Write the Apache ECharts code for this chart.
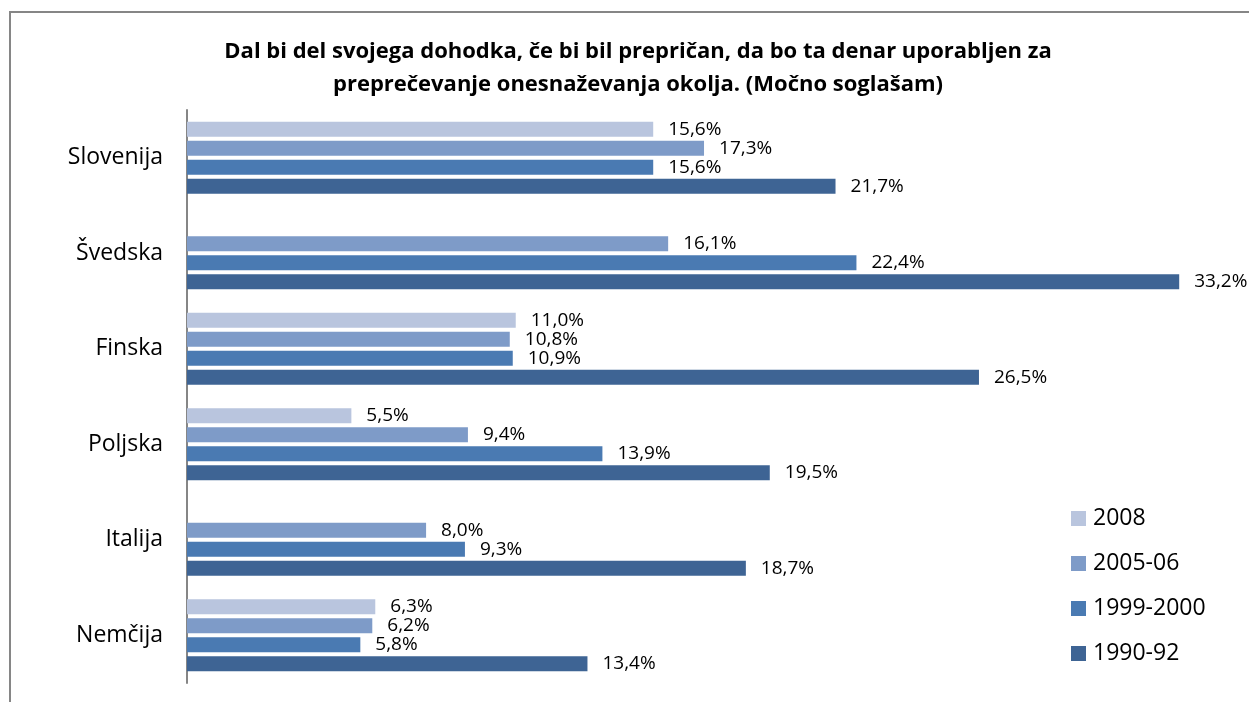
<!DOCTYPE html>
<html>
<head>
<meta charset="utf-8">
<script src="https://cdn.jsdelivr.net/npm/echarts@6/dist/echarts.min.js"></script>
<style>
  html, body { margin: 0; padding: 0; background: #fff; }
  #chart { width: 1249px; height: 702px; }
</style>
</head>
<body>
<div id="chart"></div>
<script>
// Countries, top to bottom
const categories = ['Slovenija', 'Švedska', 'Finska', 'Poljska', 'Italija', 'Nemčija'];
// Survey waves
const seriesNames = ['2008', '2005-06', '1999-2000', '1990-92'];
// Share answering "strongly agree", in percent (null = no data for that wave)
const values2008 = [15.6, null, 11.0, 5.5, null, 6.3];
const values2005 = [17.3, 16.1, 10.8, 9.4, 8.0, 6.2];
const values1999 = [15.6, 22.4, 10.9, 13.9, 9.3, 5.8];
const values1990 = [21.7, 33.2, 26.5, 19.5, 18.7, 13.4];
const seriesValues = [values2008, values2005, values1999, values1990];
const colors = ['#B9C5DE', '#7E9BC8', '#4A7AB2', '#3E6494'];

const FONT = '"Open Sans", "Noto Sans", sans-serif';

const chart = echarts.init(document.getElementById('chart'));

const series = seriesNames.map((name, i) => ({
  name: name,
  type: 'bar',
  data: seriesValues[i],
  barWidth: 15,
  barGap: '27%',
  itemStyle: { color: colors[i] },
  label: {
    show: true,
    position: 'right',
    distance: 15,
    color: '#000',
    fontFamily: FONT,
    fontSize: 19,
    formatter: p => (p.value == null ? '' : p.value.toFixed(1).replace('.', ',') + '%')
  }
}));

chart.setOption({
  backgroundColor: '#fff',
  animation: false,
  title: {
    text: 'Dal bi del svojega dohodka, če bi bil prepričan, da bo ta denar uporabljen za\npreprečevanje onesnaževanja okolja. (Močno soglašam)',
    left: 633,
    top: 30,
    textAlign: 'center',
    textStyle: {
      fontFamily: FONT,
      fontWeight: 'bold',
      fontSize: 22,
      lineHeight: 33,
      color: '#000'
    }
  },
  graphic: [{
    type: 'rect',
    shape: { x: 10, y: 12, width: 1400, height: 900 },
    style: { fill: 'none', stroke: '#868686', lineWidth: 2 },
    silent: true,
    z: -1
  }],
  legend: {
    orient: 'vertical',
    left: 1071,
    top: 507,
    padding: 0,
    icon: 'rect',
    itemWidth: 15,
    itemHeight: 15,
    itemGap: 22,
    textStyle: { fontFamily: FONT, fontSize: 23, color: '#000', padding: [0, 0, 0, 2] },
    data: seriesNames
  },
  grid: { left: 187, right: 16, top: 110, bottom: 19, containLabel: false },
  xAxis: {
    type: 'value',
    min: 0,
    max: 35,
    interval: 5,
    show: false
  },
  yAxis: {
    type: 'category',
    data: categories,
    inverse: true,
    axisLine: { show: true, lineStyle: { color: '#868686', width: 2 } },
    axisTick: { show: false },
    axisLabel: { color: '#000', fontFamily: FONT, fontSize: 23, margin: 24 },
    splitLine: { show: false }
  },
  series: series
});
</script>
</body>
</html>
